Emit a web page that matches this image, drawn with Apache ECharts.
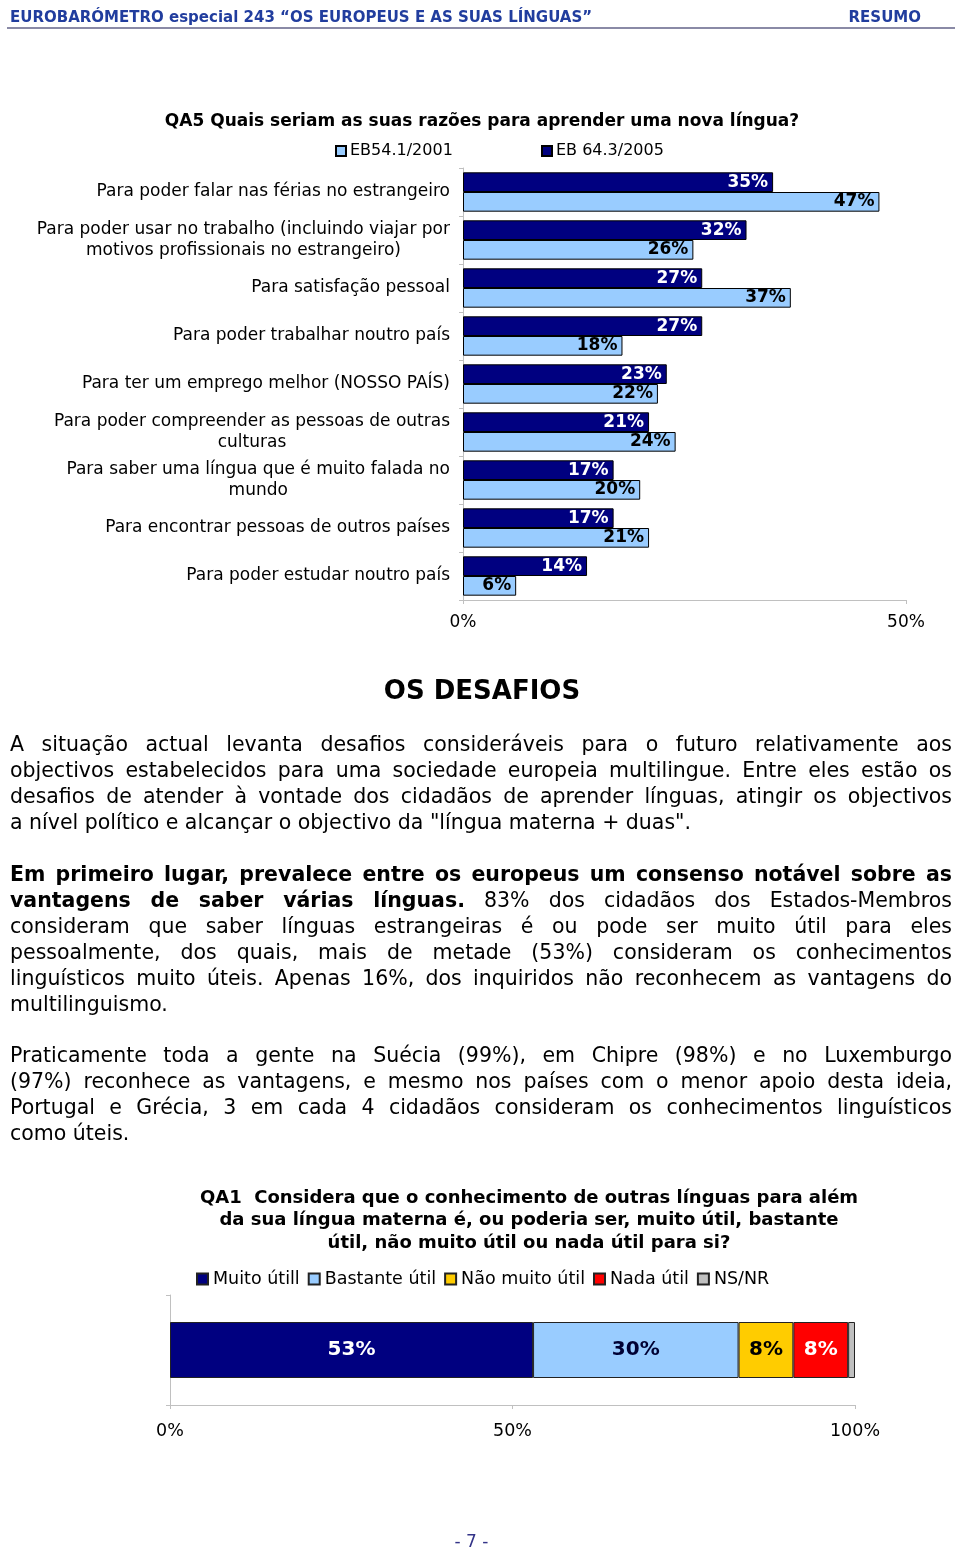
<!DOCTYPE html>
<html><head><meta charset="utf-8">
<script src="https://cdn.jsdelivr.net/npm/echarts@6/dist/echarts.min.js"></script>
<style>
html,body{margin:0;padding:0;background:#fff;}
#page{position:relative;width:960px;height:1550px;overflow:hidden;background:#fff;}
#chart{position:absolute;left:0;top:0;width:960px;height:1550px;}
.hdr{position:absolute;top:8px;font-family:"DejaVu Sans",Verdana,sans-serif;font-weight:bold;font-size:15px;color:#213d9e;white-space:nowrap;}
.rule{position:absolute;left:7px;top:27px;width:948px;height:2px;background:#8a8aa6;}
.t{position:absolute;left:10px;width:942px;font-family:"DejaVu Sans",Verdana,sans-serif;font-size:20.5px;line-height:26px;color:#000;white-space:nowrap;}
.h2{position:absolute;left:0;width:964px;top:674px;text-align:center;font-family:"DejaVu Sans",Verdana,sans-serif;font-weight:bold;font-size:26px;line-height:32px;}
.foot{position:absolute;left:0;width:943px;top:1531px;text-align:center;font-family:"DejaVu Sans",Verdana,sans-serif;font-size:17px;color:#333388;}
</style></head>
<body><div id="page"><div id="chart"></div>
<div class="hdr" style="left:10px">EUROBARÓMETRO especial 243 “OS EUROPEUS E AS SUAS LÍNGUAS”</div>
<div class="hdr" style="right:39px">RESUMO</div>
<div class="rule"></div>
<div class="h2">OS DESAFIOS</div>
<div class="foot">- 7 -</div>
</div>
<script>
// ---------- data ----------
const reasonCategories = [
  'Para poder falar nas férias no estrangeiro',
  'Para poder usar no trabalho (incluindo viajar por\nmotivos profissionais no estrangeiro)',
  'Para satisfação pessoal',
  'Para poder trabalhar noutro país',
  'Para ter um emprego melhor (NOSSO PAÍS)',
  'Para poder compreender as pessoas de outras\nculturas',
  'Para saber uma língua que é muito falada no\nmundo',
  'Para encontrar pessoas de outros países',
  'Para poder estudar noutro país'
];
const eb2005 = [35, 32, 27, 27, 23, 21, 17, 17, 14];
const eb2001 = [47, 26, 37, 18, 22, 24, 20, 21, 6];
const reasonSeriesNames = ['EB54.1/2001', 'EB 64.3/2005'];
const reasonAxisTicks = [0, 50];

const usefulNames = ['Muito útill', 'Bastante útil', 'Não muito útil', 'Nada útil', 'NS/NR'];
const usefulValues = [53, 30, 8, 8, 1];
const usefulAxisTicks = [0, 50, 100];

const qa5Title = 'QA5 Quais seriam as suas razões para aprender uma nova língua?';
const qa1Title = ['QA1  Considera que o conhecimento de outras línguas para além',
                  'da sua língua materna é, ou poderia ser, muito útil, bastante',
                  'útil, não muito útil ou nada útil para si?'];

const paragraphs = [
  {y0: 744, lines: [
    'A situação actual levanta desafios consideráveis para o futuro relativamente aos',
    'objectivos estabelecidos para uma sociedade europeia multilingue. Entre eles estão os',
    'desafios de atender à vontade dos cidadãos de aprender línguas, atingir os objectivos',
    'a nível político e alcançar o objectivo da "língua materna + duas".']},
  {y0: 874, lines: [
    '<b>Em primeiro lugar, prevalece entre os europeus um consenso notável sobre as</b>',
    '<b>vantagens de saber várias línguas.</b> 83% dos cidadãos dos Estados-Membros',
    'consideram que saber línguas estrangeiras é ou pode ser muito útil para eles',
    'pessoalmente, dos quais, mais de metade (53%) consideram os conhecimentos',
    'linguísticos muito úteis. Apenas 16%, dos inquiridos não reconhecem as vantagens do',
    'multilinguismo.']},
  {y0: 1055, lines: [
    'Praticamente toda a gente na Suécia (99%), em Chipre (98%) e no Luxemburgo',
    '(97%) reconhece as vantagens, e mesmo nos países com o menor apoio desta ideia,',
    'Portugal e Grécia, 3 em cada 4 cidadãos consideram os conhecimentos linguísticos',
    'como úteis.']}
];

// ---------- text paragraphs ----------
const page = document.getElementById('page');
paragraphs.forEach(p => {
  p.lines.forEach((ln, i) => {
    const d = document.createElement('div');
    d.className = 't';
    d.style.top = (p.y0 + i * 26 - 13) + 'px';
    const s = document.createElement('span');
    s.innerHTML = ln;
    d.appendChild(s);
    page.appendChild(d);
    if (i < p.lines.length - 1) {
      const w = s.getBoundingClientRect().width;
      const n = (s.textContent.match(/ /g) || []).length;
      if (n > 0) d.style.wordSpacing = ((942 - w) / n) + 'px';
    }
  });
});

// ---------- chart ----------
const FONT = '"DejaVu Sans", Verdana, sans-serif';
const chart = echarts.init(document.getElementById('chart'), null, {renderer: 'canvas'});

const usefulColors = ['#000080', '#99CCFF', '#FFCC00', '#FF0000', '#C0C0C0'];
const usefulLabelColors = ['#ffffff', '#000033', '#000000', '#ffffff', '#000000'];

const option = {
  backgroundColor: '#fff',
  animation: false,
  graphic: [
    {type: 'text', x: 482, y: 122, style: {text: qa5Title, align: 'center', verticalAlign: 'middle',
      font: 'bold 17px ' + FONT, fill: '#000'}},
  ].concat(qa1Title.map((t, i) => ({type: 'text', x: 529, y: 1198 + i * 22.5,
      style: {text: t, align: 'center', verticalAlign: 'middle', font: 'bold 18px ' + FONT, fill: '#000'}}))),
  legend: [
    {data: [reasonSeriesNames[0]], left: 335, top: 143, padding: 0, itemWidth: 10, itemHeight: 10, icon: 'rect',
      textStyle: {fontFamily: FONT, fontSize: 16, color: '#000', padding: [0, 0, 0, -1]}},
    {data: [reasonSeriesNames[1]], left: 541, top: 143, padding: 0, itemWidth: 10, itemHeight: 10, icon: 'rect',
      textStyle: {fontFamily: FONT, fontSize: 16, color: '#000', padding: [0, 0, 0, -1]}},
    {data: usefulNames, left: 196, top: 1270, padding: 0, itemWidth: 11, itemHeight: 11, icon: 'rect', itemGap: 8,
      textStyle: {fontFamily: FONT, fontSize: 17.5, color: '#000'}}
  ],
  grid: [
    {left: 463, width: 443, top: 168, height: 432},
    {left: 170, width: 685, top: 1295, height: 110}
  ],
  xAxis: [
    {type: 'value', gridIndex: 0, min: reasonAxisTicks[0], max: reasonAxisTicks[1], interval: 50,
      axisLine: {show: true, lineStyle: {color: '#c0c0c0'}},
      axisTick: {show: true, length: 4, lineStyle: {color: '#c0c0c0'}},
      splitLine: {show: false},
      axisLabel: {formatter: '{value}%', fontFamily: FONT, fontSize: 17, color: '#000', margin: 14}},
    {type: 'value', gridIndex: 1, min: usefulAxisTicks[0], max: usefulAxisTicks[2], interval: 50,
      axisLine: {show: true, lineStyle: {color: '#c0c0c0'}},
      axisTick: {show: true, length: 4, lineStyle: {color: '#c0c0c0'}},
      splitLine: {show: false},
      axisLabel: {formatter: '{value}%', fontFamily: FONT, fontSize: 17.5, color: '#000', margin: 17}}
  ],
  yAxis: [
    {type: 'category', gridIndex: 0, inverse: true, data: reasonCategories,
      axisLine: {show: true, lineStyle: {color: '#c0c0c0'}},
      axisTick: {show: true, length: 4, lineStyle: {color: '#c0c0c0'}},
      axisLabel: {margin: 13, align: 'right', fontFamily: FONT, fontSize: 17, color: '#000', lineHeight: 21,
        formatter: v => v.split('\n').map(l => '{c|' + l + '}').join('\n'),
        rich: {c: {align: 'center', fontFamily: FONT, fontSize: 17, color: '#000', lineHeight: 21}}}},
    {type: 'category', gridIndex: 1, data: ['QA1'],
      axisLine: {show: true, lineStyle: {color: '#c0c0c0'}},
      axisTick: {show: true, length: 4, lineStyle: {color: '#c0c0c0'}},
      axisLabel: {show: false}}
  ],
  series: [
    {name: reasonSeriesNames[1], type: 'bar', xAxisIndex: 0, yAxisIndex: 0, data: eb2005,
      barGap: '0%', barCategoryGap: '18%',
      itemStyle: {color: '#000080', borderColor: '#000', borderWidth: 1},
      label: {show: true, position: 'insideRight', distance: 5, formatter: '{c}%', color: '#fff',
        fontFamily: FONT, fontWeight: 'bold', fontSize: 17}},
    {name: reasonSeriesNames[0], type: 'bar', xAxisIndex: 0, yAxisIndex: 0, data: eb2001,
      barGap: '0%', barCategoryGap: '18%',
      itemStyle: {color: '#99CCFF', borderColor: '#000', borderWidth: 1},
      label: {show: true, position: 'insideRight', distance: 5, formatter: '{c}%', color: '#000',
        fontFamily: FONT, fontWeight: 'bold', fontSize: 17}}
  ].concat(usefulNames.map((n, i) => ({
      name: n, type: 'bar', stack: 'qa1', xAxisIndex: 1, yAxisIndex: 1, data: [usefulValues[i]],
      barWidth: 56,
      itemStyle: {color: usefulColors[i], borderColor: '#222', borderWidth: 1},
      label: {show: i < 4, position: 'inside', formatter: '{c}%', color: usefulLabelColors[i],
        fontFamily: FONT, fontWeight: 'bold', fontSize: 20}
  })))
};
chart.setOption(option);
</script>
</body></html>
